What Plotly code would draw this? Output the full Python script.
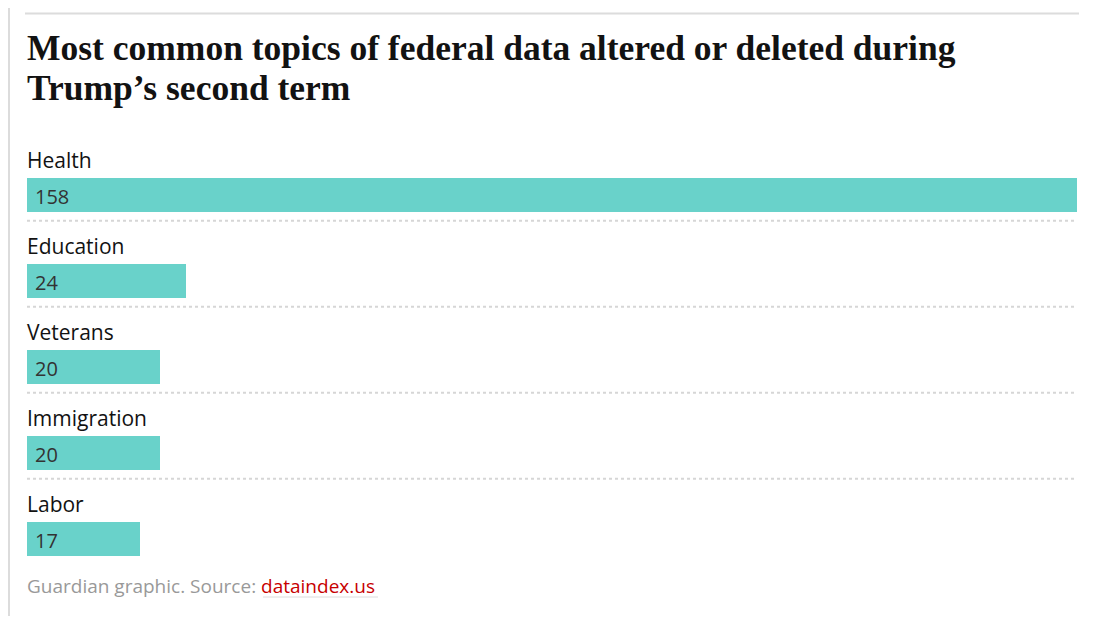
import plotly.graph_objects as go

# data
topics = ["Health", "Education", "Veterans", "Immigration", "Labor"]
counts = [158, 24, 20, 20, 17]
title_lines = ["Most common topics of federal data altered or deleted during",
               "Trump’s second term"]

BAR = "#69d2ca"
GRID = "#d6d6d6"
RULE = "#dcdcdc"

# the page body adds an 8px margin, so the figure is 16px smaller than the window
W, H = 1096, 608
L, T = 19, 144
PW, PH = 1050, 430   # plot area in px


def px_x(p):
    return p / PW


def px_y(p):
    return p / PH


fig = go.Figure()

fig.add_trace(go.Bar(
    x=counts, y=topics, orientation="h",
    marker=dict(color=BAR, line=dict(width=0)),
    width=0.395,
    hoverinfo="skip",
))

# value inside the bar, label above it
for t, v in zip(topics, counts):
    fig.add_annotation(x=0, y=t, text=str(v), showarrow=False,
                       xanchor="left", yanchor="middle", xshift=6, yshift=-1,
                       font=dict(family="Open Sans", size=20, color="#333333"))
    fig.add_annotation(x=0, y=t, text=t, showarrow=False,
                       xanchor="left", yanchor="middle", xshift=-2, yshift=35,
                       font=dict(family="Open Sans", size=21, color="#121212"))

# dotted separators between the rows
for i in range(len(topics) - 1):
    fig.add_shape(type="line", xref="paper", x0=0, x1=1,
                  yref="y", y0=i + 0.3, y1=i + 0.3,
                  line=dict(color=GRID, width=2, dash="dot"))

# grey rules round the graphic
fig.add_shape(type="line", xref="paper", yref="paper",
              x0=px_x(-2), x1=1 + px_x(2), y0=1 + px_y(138.5), y1=1 + px_y(138.5),
              line=dict(color=RULE, width=2))
fig.add_shape(type="line", xref="paper", yref="paper",
              x0=px_x(1 - L), x1=px_x(1 - L), y0=-2, y1=2,
              line=dict(color=RULE, width=2))

# headline, two lines placed separately to get the tight leading
for line, above in zip(title_lines, [104, 64]):
    fig.add_annotation(
        xref="paper", yref="paper", x=0, y=1 + px_y(above),
        xanchor="left", yanchor="middle", xshift=-1, showarrow=False,
        borderpad=0,
        text="<b>" + line + "</b>",
        font=dict(family="Liberation Serif", size=35.5, color="#121212"),
    )

# source line
fig.add_annotation(
    xref="paper", yref="paper", x=0, y=px_y(-3.5), xanchor="left", yanchor="middle",
    showarrow=False, xshift=-2,
    text="Guardian graphic. Source: <span style='color:#c70000'>dataindex.us</span>",
    font=dict(family="Open Sans", size=19, color="#999999"),
)
fig.add_shape(type="line", xref="paper", yref="paper",
              x0=px_x(236), x1=px_x(351), y0=px_y(-15), y1=px_y(-15),
              line=dict(color=RULE, width=1))

fig.update_layout(
    width=W, height=H,
    margin=dict(l=L, r=W - L - PW, t=T, b=H - T - PH),
    paper_bgcolor="white", plot_bgcolor="white",
    showlegend=False,
    bargap=0,
    xaxis=dict(range=[0, max(counts)], visible=False, fixedrange=True),
    yaxis=dict(range=[len(topics) - 0.5, -0.5], visible=False, fixedrange=True,
               categoryorder="array", categoryarray=topics),
)

fig.write_html("out.html", config={"displayModeBar": False})
